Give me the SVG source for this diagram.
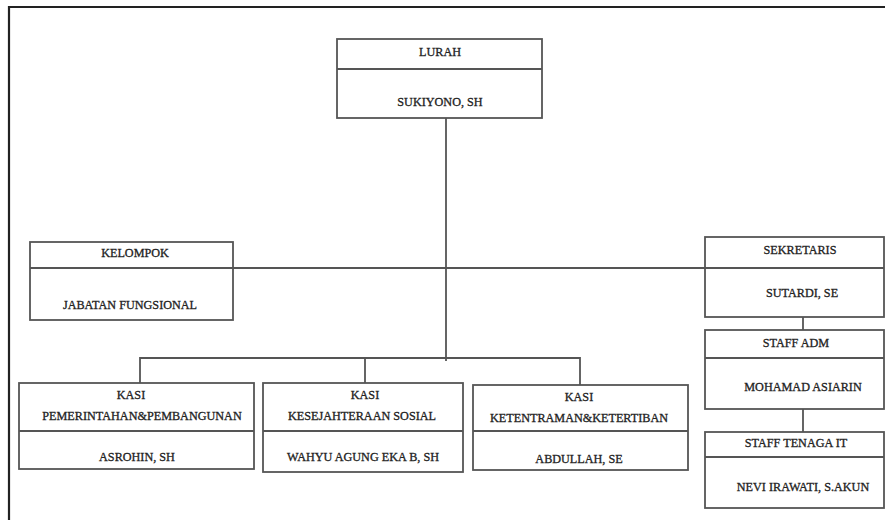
<svg xmlns="http://www.w3.org/2000/svg" width="885" height="520" viewBox="0 0 885 520">
<style>
.box{fill:#fff;stroke:#555;stroke-width:1.8}
.div{stroke:#555;stroke-width:1.8}
.con{stroke:#555;stroke-width:1.8;fill:none}
text{font-family:"Liberation Serif","Times New Roman",serif;font-size:12.2px;fill:#222;stroke:#222;stroke-width:0.3;text-anchor:middle}
</style>
<rect width="885" height="520" fill="#fff"/>
<path d="M9,520 V7 H885" fill="none" stroke="#222" stroke-width="2.2"/>
<g id="connectors">
<line class="con" x1="233" y1="268" x2="705" y2="268"/>
<line class="con" x1="446" y1="118" x2="446" y2="361"/>
<polyline class="con" points="140,383 140,358 580,358 580,385"/>
<line class="con" x1="365" y1="358" x2="365" y2="383"/>
<line class="con" x1="803" y1="317" x2="803" y2="330"/>
<line class="con" x1="803" y1="409" x2="803" y2="432"/>
</g>
<g id="lurah">
<rect class="box" x="337" y="39" width="205" height="79"/>
<line class="div" x1="337" y1="69" x2="542" y2="69"/>
<text x="440" y="56">LURAH</text>
<text x="440" y="106">SUKIYONO, SH</text>
</g>
<g id="kelompok">
<rect class="box" x="30" y="242" width="203" height="78"/>
<line class="div" x1="30" y1="268" x2="233" y2="268"/>
<text x="135" y="257">KELOMPOK</text>
<text x="130" y="309">JABATAN FUNGSIONAL</text>
</g>
<g id="sekretaris">
<rect class="box" x="705" y="237" width="179" height="80"/>
<line class="div" x1="705" y1="268" x2="884" y2="268"/>
<text x="800" y="254">SEKRETARIS</text>
<text x="802" y="297">SUTARDI, SE</text>
</g>
<g id="staff-adm">
<rect class="box" x="705" y="330" width="179" height="79"/>
<line class="div" x1="705" y1="358" x2="884" y2="358"/>
<text x="796" y="347">STAFF ADM</text>
<text x="803" y="391">MOHAMAD ASIARIN</text>
</g>
<g id="staff-it">
<rect class="box" x="705" y="432" width="179" height="76"/>
<line class="div" x1="705" y1="457" x2="884" y2="457"/>
<text x="796" y="447">STAFF TENAGA IT</text>
<text x="803" y="491">NEVI IRAWATI, S.AKUN</text>
</g>
<g id="kasi-pemerintahan">
<rect class="box" x="19" y="383" width="235" height="86"/>
<line class="div" x1="19" y1="431" x2="254" y2="431"/>
<text x="131" y="399">KASI</text>
<text x="142" y="420">PEMERINTAHAN&amp;PEMBANGUNAN</text>
<text x="137" y="461">ASROHIN, SH</text>
</g>
<g id="kasi-kesejahteraan">
<rect class="box" x="263" y="383" width="200" height="89"/>
<line class="div" x1="263" y1="431" x2="463" y2="431"/>
<text x="365" y="399">KASI</text>
<text x="362" y="420">KESEJAHTERAAN SOSIAL</text>
<text x="363" y="461">WAHYU AGUNG EKA B, SH</text>
</g>
<g id="kasi-ketentraman">
<rect class="box" x="473" y="385" width="215" height="85"/>
<line class="div" x1="473" y1="431" x2="688" y2="431"/>
<text x="579" y="401">KASI</text>
<text x="579" y="422">KETENTRAMAN&amp;KETERTIBAN</text>
<text x="579" y="463">ABDULLAH, SE</text>
</g>
</svg>
